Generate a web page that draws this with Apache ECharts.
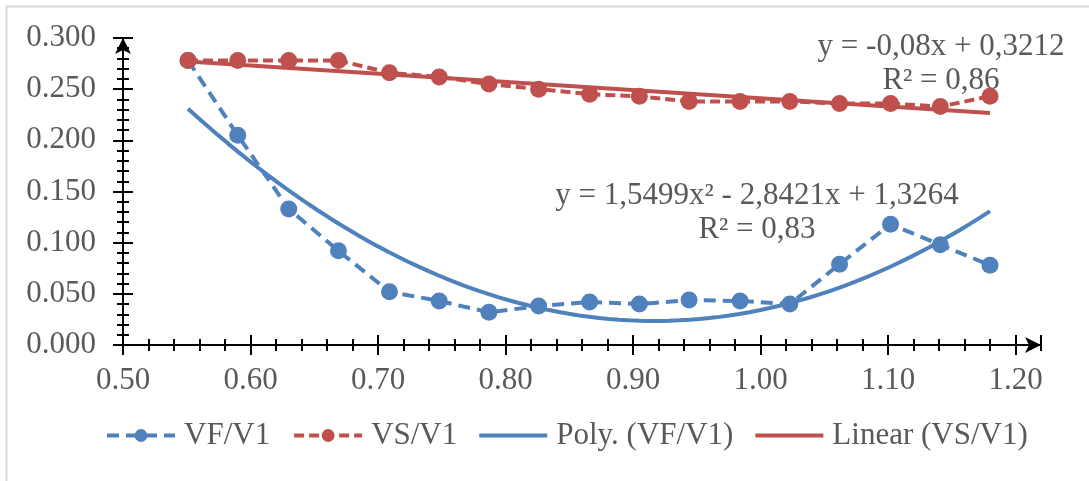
<!DOCTYPE html>
<html>
<head>
<meta charset="utf-8">
<script src="https://cdn.jsdelivr.net/npm/echarts@6/dist/echarts.min.js"></script>
<style>
    html, body {margin: 0; padding: 0; background: #fff}
    #chart {width: 1089px; height: 481px}
</style>
</head>
<body>
<div id="chart"></div>
<script>
let xValues = [0.551, 0.590, 0.630, 0.669, 0.709, 0.748, 0.787, 0.826, 0.866, 0.905, 0.944, 0.984, 1.023, 1.062, 1.102, 1.141, 1.180]
let vfV1 = [0.278, 0.205, 0.133, 0.092, 0.052, 0.043, 0.032, 0.038, 0.042, 0.040, 0.044, 0.043, 0.040, 0.079, 0.118, 0.098, 0.078]
let vsV1 = [0.278, 0.278, 0.278, 0.278, 0.266, 0.262, 0.255, 0.250, 0.245, 0.243, 0.238, 0.238, 0.238, 0.236, 0.236, 0.233, 0.243]

// coefficients as printed on the chart
let polyCoef = [1.5499, -2.8421, 1.3264]
let linCoef = [-0.08, 0.3212]

let seriesNames = ['VF/V1', 'VS/V1', 'Poly. (VF/V1)', 'Linear (VS/V1)']
let polyLabel = ['y = 1,5499x² - 2,8421x + 1,3264', 'R² = 0,83']
let linLabel = ['y = -0,08x + 0,3212', 'R² = 0,86']

let BLUE = '#4F81BD'
let RED = '#C0504D'
let TEXT = '#595959'
let FONT = '"Liberation Serif", "Times New Roman", serif'
let LINE_ICON = 'path://M0,0h68v4h-68z'

function pairs(xs, ys) {
    return xs.map((x, i) => [x, ys[i]])
}

// trendline samples between first and last x
function polyLine() {
    let out = []
    let x0 = xValues[0], x1 = xValues[xValues.length - 1]
    for (let i = 0; i <= 80; i++) {
        let x = x0 + (x1 - x0) * i / 80
        out.push([x, polyCoef[0] * x * x + polyCoef[1] * x + polyCoef[2]])
    }
    return out
}

function linLine() {
    let x0 = xValues[0], x1 = xValues[xValues.length - 1]
    return [[x0, linCoef[0] * x0 + linCoef[1]], [x1, linCoef[0] * x1 + linCoef[1]]]
}

function xAxisDef(interval, len, inside, main) {
    return {
        type: 'value', position: 'bottom', min: 0.5, max: 1.22, interval: interval,
        axisLine: main ? {
            show: true, onZero: false, symbol: ['none', 'arrow'], symbolSize: [12, 16],
            lineStyle: {color: '#000', width: 2}
        } : {show: false, onZero: false},
        axisTick: {show: true, inside: inside, length: len, lineStyle: {color: '#000', width: 2}},
        axisLabel: main ? {
            show: true, margin: 20, color: TEXT, fontFamily: FONT, fontSize: 31,
            showMaxLabel: false,
            formatter: v => v.toFixed(2)
        } : {show: false},
        splitLine: {show: false}
    }
}

function yAxisDef(inside, main) {
    return {
        type: 'value', position: 'left', min: 0, max: 0.3, interval: 0.05,
        axisLine: main ? {
            show: true, onZero: false, symbol: ['none', 'arrow'], symbolSize: [12, 16],
            lineStyle: {color: '#000', width: 2}
        } : {show: false, onZero: false},
        axisTick: {show: true, inside: inside, length: 10, lineStyle: {color: '#000', width: 2}},
        minorTick: {show: true, splitNumber: 5, length: 6, lineStyle: {color: '#000', width: 2}},
        axisLabel: main ? {
            show: true, margin: 27, color: TEXT, fontFamily: FONT, fontSize: 31,
            formatter: v => v.toFixed(3)
        } : {show: false},
        splitLine: {show: false}
    }
}

let chart = echarts.init(document.getElementById('chart'))

chart.setOption({
    animation: false,
    grid: {left: 123, right: 48, top: 38, bottom: 136},
    xAxis: [
        xAxisDef(0.1, 10, false, true),
        xAxisDef(0.1, 10, true, false),
        xAxisDef(0.02, 6, false, false),
        xAxisDef(0.02, 6, true, false)
    ],
    yAxis: [
        yAxisDef(false, true),
        yAxisDef(true, false)
    ],
    legend: {
        left: 100, top: 415, itemWidth: 68, itemHeight: 16, itemGap: 22,
        lineStyle: {width: 4},
        textStyle: {color: TEXT, fontFamily: FONT, fontSize: 31, padding: [0, 0, 0, 4]},
        data: [
            {name: seriesNames[0]},
            {name: seriesNames[1]},
            {name: seriesNames[2], icon: LINE_ICON},
            {name: seriesNames[3], icon: LINE_ICON}
        ]
    },
    graphic: [
        {
            type: 'polyline', silent: true,
            shape: {points: [[6.5, 490], [6.5, 6.5], [1100, 6.5]]},
            style: {stroke: '#D9D9D9', lineWidth: 2, fill: null}
        },
        {type: 'text', x: 941, y: 30, style: {text: linLabel.join('\n'), align: 'center', fill: TEXT, font: '31px ' + FONT, lineHeight: 34}},
        {type: 'text', x: 757, y: 179, style: {text: polyLabel.join('\n'), align: 'center', fill: TEXT, font: '31px ' + FONT, lineHeight: 34}}
    ],
    series: [
        {
            name: seriesNames[0], type: 'line', data: pairs(xValues, vfV1),
            symbol: 'circle', symbolSize: 17, z: 3,
            itemStyle: {color: BLUE},
            lineStyle: {color: BLUE, width: 4, type: [12, 7]}
        },
        {
            name: seriesNames[1], type: 'line', data: pairs(xValues, vsV1),
            symbol: 'circle', symbolSize: 17, z: 3,
            itemStyle: {color: RED},
            lineStyle: {color: RED, width: 4, type: [10, 5]}
        },
        {
            name: seriesNames[2], type: 'line', data: polyLine(),
            symbol: 'none', showSymbol: false, z: 2,
            itemStyle: {color: BLUE},
            lineStyle: {color: BLUE, width: 4}
        },
        {
            name: seriesNames[3], type: 'line', data: linLine(),
            symbol: 'none', showSymbol: false, z: 2,
            itemStyle: {color: RED},
            lineStyle: {color: RED, width: 4}
        }
    ]
})
</script>
</body>
</html>
